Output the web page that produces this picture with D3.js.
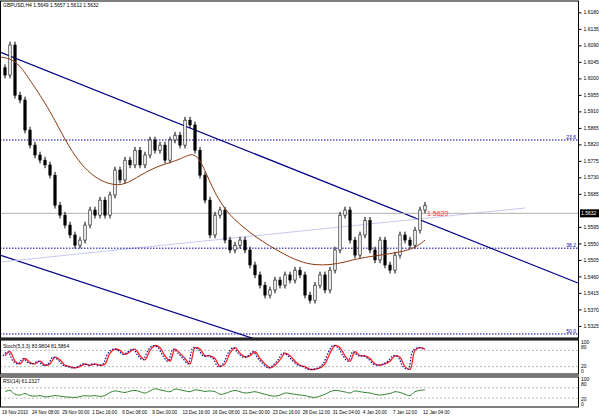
<!DOCTYPE html>
<html><head><meta charset="utf-8">
<script src="https://cdn.jsdelivr.net/npm/d3@7"></script>
<style>body{margin:0;background:#fff}svg{font-family:"Liberation Sans",Arial,sans-serif;font-size:6px}</style>
</head><body><div id="chart"></div>
<script>
const W = 599, H = 416, R = 578;

// closes (GBPUSD H4), one every bar
const closes = [1.6009,1.6091,1.5954,1.5941,1.5859,1.5818,1.5791,1.5777,1.5764,1.5736,1.5654,1.5627,1.5600,1.5573,1.5545,1.5559,1.5600,1.5641,1.5627,1.5668,1.5627,1.5682,1.5750,1.5723,1.5777,1.5764,1.5804,1.5764,1.5791,1.5832,1.5804,1.5818,1.5777,1.5832,1.5845,1.5818,1.5886,1.5873,1.5804,1.5736,1.5668,1.5573,1.5627,1.5641,1.5559,1.5532,1.5545,1.5559,1.5532,1.5491,1.5464,1.5436,1.5409,1.5423,1.5450,1.5436,1.5464,1.5450,1.5477,1.5464,1.5409,1.5395,1.5436,1.5464,1.5423,1.5477,1.5532,1.5627,1.5641,1.5559,1.5518,1.5573,1.5613,1.5532,1.5505,1.5559,1.5491,1.5477,1.5518,1.5573,1.5559,1.5545,1.5586,1.5641,1.5654];
const maPts = [[0,1.6058],[10,1.6055],[20,1.6036],[30,1.5995],[50,1.5914],[70,1.5804],[90,1.5736],[110,1.5709],[125,1.5709],[140,1.5736],[160,1.5764],[180,1.5777],[195,1.5804],[205,1.5750],[220,1.5654],[240,1.5600],[260,1.5559],[280,1.5526],[300,1.5499],[315,1.5491],[330,1.5491],[345,1.5499],[360,1.5510],[380,1.5518],[400,1.5526],[415,1.5537],[425,1.5559]];
const stoch = [60,75,40,30,50,35,30,40,25,30,55,45,25,20,15,20,30,25,30,25,30,70,85,80,65,75,85,60,45,80,98,90,60,40,85,70,50,30,90,85,60,60,50,20,30,70,90,70,55,60,75,50,30,15,25,45,70,60,40,25,20,10,10,15,30,70,98,90,60,40,75,60,60,50,30,25,30,40,60,55,20,10,80,90,85];
const rsi = [55,60,45,42,48,40,38,40,35,37,40,38,35,34,33,36,40,38,40,37,40,52,58,55,52,57,60,55,50,58,66,62,58,55,65,62,58,55,62,60,56,58,55,45,48,55,60,55,50,52,55,50,45,40,38,42,50,48,45,42,40,35,33,38,45,55,60,58,54,50,58,55,52,50,45,42,45,48,55,52,45,40,55,60,62];
const priceTicks = [1.6180,1.6135,1.6090,1.6045,1.6000,1.5955,1.5910,1.5865,1.5820,1.5775,1.5730,1.5685,1.5595,1.5550,1.5505,1.5460,1.5415,1.5370,1.5325];
const timeLabels = ["19 Nov 2010","24 Nov 08:00","29 Nov 00:00","1 Dec 16:00","6 Dec 08:00","9 Dec 00:00","13 Dec 16:00","16 Dec 08:00","21 Dec 00:00","23 Dec 16:00","28 Dec 12:00","31 Dec 04:00","4 Jan 20:00","7 Jan 12:00","12 Jan 04:00"];
const fibo = [["23.6",1.5832],["38.2",1.5537],["50.0",1.5303]];

const svg = d3.select("#chart").append("svg").attr("width", W).attr("height", H);
const x = d3.scaleLinear().domain([0, closes.length - 1]).range([5, 425]);
const y = d3.scaleLinear().domain([1.5292, 1.6211]).range([338, 1]);
const ys = d3.scaleLinear().domain([0, 100]).range([372, 345]);
const yr = d3.scaleLinear().domain([0, 100]).range([406, 380]);

const ln = (x1, p1, x2, p2, c, w) => svg.append("line").attr("x1", x1).attr("y1", y(p1)).attr("x2", x2).attr("y2", y(p2)).attr("stroke", c).attr("stroke-width", w);
ln(0, y.invert(52), R, y.invert(283), "#000088", 1.2);
ln(0, y.invert(255), 258, y.invert(340), "#000088", 1.2);
ln(0, y.invert(262), 525, y.invert(208), "#c8c8f0", 1);
fibo.forEach(([t, p]) => {
  svg.append("line").attr("x1", 0).attr("x2", R).attr("y1", y(p)).attr("y2", y(p)).attr("stroke", "#0000aa").attr("stroke-dasharray", "1.5,1.5");
  svg.append("text").attr("x", R - 2).attr("y", y(p) - 1).attr("text-anchor", "end").attr("fill", "#0000aa").attr("font-size", 5).text(t);
});
const last = closes[closes.length - 1] - 0.0022;
svg.append("line").attr("x1", 0).attr("x2", R).attr("y1", y(last)).attr("y2", y(last)).attr("stroke", "#b0b0b0");
svg.append("text").attr("x", 427).attr("y", y(last) + 3).attr("fill", "#ff3030").attr("font-size", 7).text("1.5620");

// candles
closes.forEach((c, i) => {
  const o = i ? closes[i - 1] : c + 0.002;
  const hi = Math.max(o, c) + 0.0009, lo = Math.min(o, c) - 0.0009;
  const g = svg.append("g");
  g.append("line").attr("x1", x(i)).attr("x2", x(i)).attr("y1", y(hi)).attr("y2", y(lo)).attr("stroke", "#000");
  g.append("rect").attr("x", x(i) - 1.2).attr("width", 2.4).attr("y", y(Math.max(o, c))).attr("height", Math.max(1, Math.abs(y(o) - y(c))))
    .attr("fill", c >= o ? "#fff" : "#000").attr("stroke", "#000").attr("stroke-width", 0.6);
});
svg.append("path").attr("d", d3.line().x(d => d[0]).y(d => y(d[1])).curve(d3.curveBasis)(maPts)).attr("fill", "none").attr("stroke", "#8b3a0f").attr("stroke-width", 1);

// indicators
[[ys, [80, 20]], [yr, [70, 30]]].forEach(([s, lv]) => lv.forEach(v =>
  svg.append("line").attr("x1", 0).attr("x2", R).attr("y1", s(v)).attr("y2", s(v)).attr("stroke", "#bbb").attr("stroke-dasharray", "2,2")));
const lineI = s => d3.line().x((d, i) => x(i)).y(d => s(d)).curve(d3.curveCatmullRom);
svg.append("path").attr("d", lineI(ys)(stoch)).attr("fill", "none").attr("stroke", "#ff2020").attr("stroke-width", 1.3);
svg.append("path").attr("d", lineI(ys)(stoch)).attr("transform", "translate(-2,0)").attr("fill", "none").attr("stroke", "#1010a0").attr("stroke-width", 1.2).attr("stroke-dasharray", "1.5,1.5");
svg.append("path").attr("d", lineI(yr)(rsi)).attr("fill", "none").attr("stroke", "#006400").attr("stroke-width", 0.8);

// frames
[[1, 338], [340, 374], [377, 407]].forEach(([t, b]) => svg.append("rect").attr("x", 0.5).attr("y", t).attr("width", R).attr("height", b - t).attr("fill", "none").attr("stroke", "#000"));
svg.append("rect").attr("x", 0).attr("y", 338).attr("width", R + 1).attr("height", 2).attr("fill", "#222");
svg.append("rect").attr("x", 0).attr("y", 374).attr("width", R + 1).attr("height", 3).attr("fill", "#777");

// axes
const ax = svg.append("g").attr("transform", `translate(${R + 0.5},0)`).call(d3.axisRight(y).tickValues(priceTicks).tickSize(3).tickFormat(d3.format(".4f")));
ax.select(".domain").remove();
ax.selectAll("text").attr("font-size", 5).attr("x", 5);
svg.append("rect").attr("x", R + 2).attr("y", y(last) - 4).attr("width", 19).attr("height", 8).attr("fill", "#000");
svg.append("text").attr("x", R + 3).attr("y", y(last) + 2).attr("fill", "#fff").attr("font-size", 5).text("1.5632");
[["100", 344], ["80", 349], ["20", 368], ["0", 373], ["100", 381], ["80", 386], ["20", 401], ["0", 406]].forEach(([t, yy]) =>
  svg.append("text").attr("x", R + 3).attr("y", yy).attr("font-size", 5).text(t));
const xt = d3.scaleLinear().domain([0, timeLabels.length - 1]).range([2, 423]);
timeLabels.forEach((t, i) => svg.append("text").attr("x", xt(i)).attr("y", 414).attr("font-size", 4.6).text(t));
svg.append("text").attr("x", 3).attr("y", 7).attr("font-size", 5).text("GBPUSD,H4  1.5649 1.5657 1.5612 1.5632");
svg.append("text").attr("x", 3).attr("y", 348).attr("font-size", 5).text("Stoch(5,3,3) 83.9804 81.5864");
svg.append("text").attr("x", 3).attr("y", 383).attr("font-size", 5).text("RSI(14) 61.2327");
</script></body></html>
